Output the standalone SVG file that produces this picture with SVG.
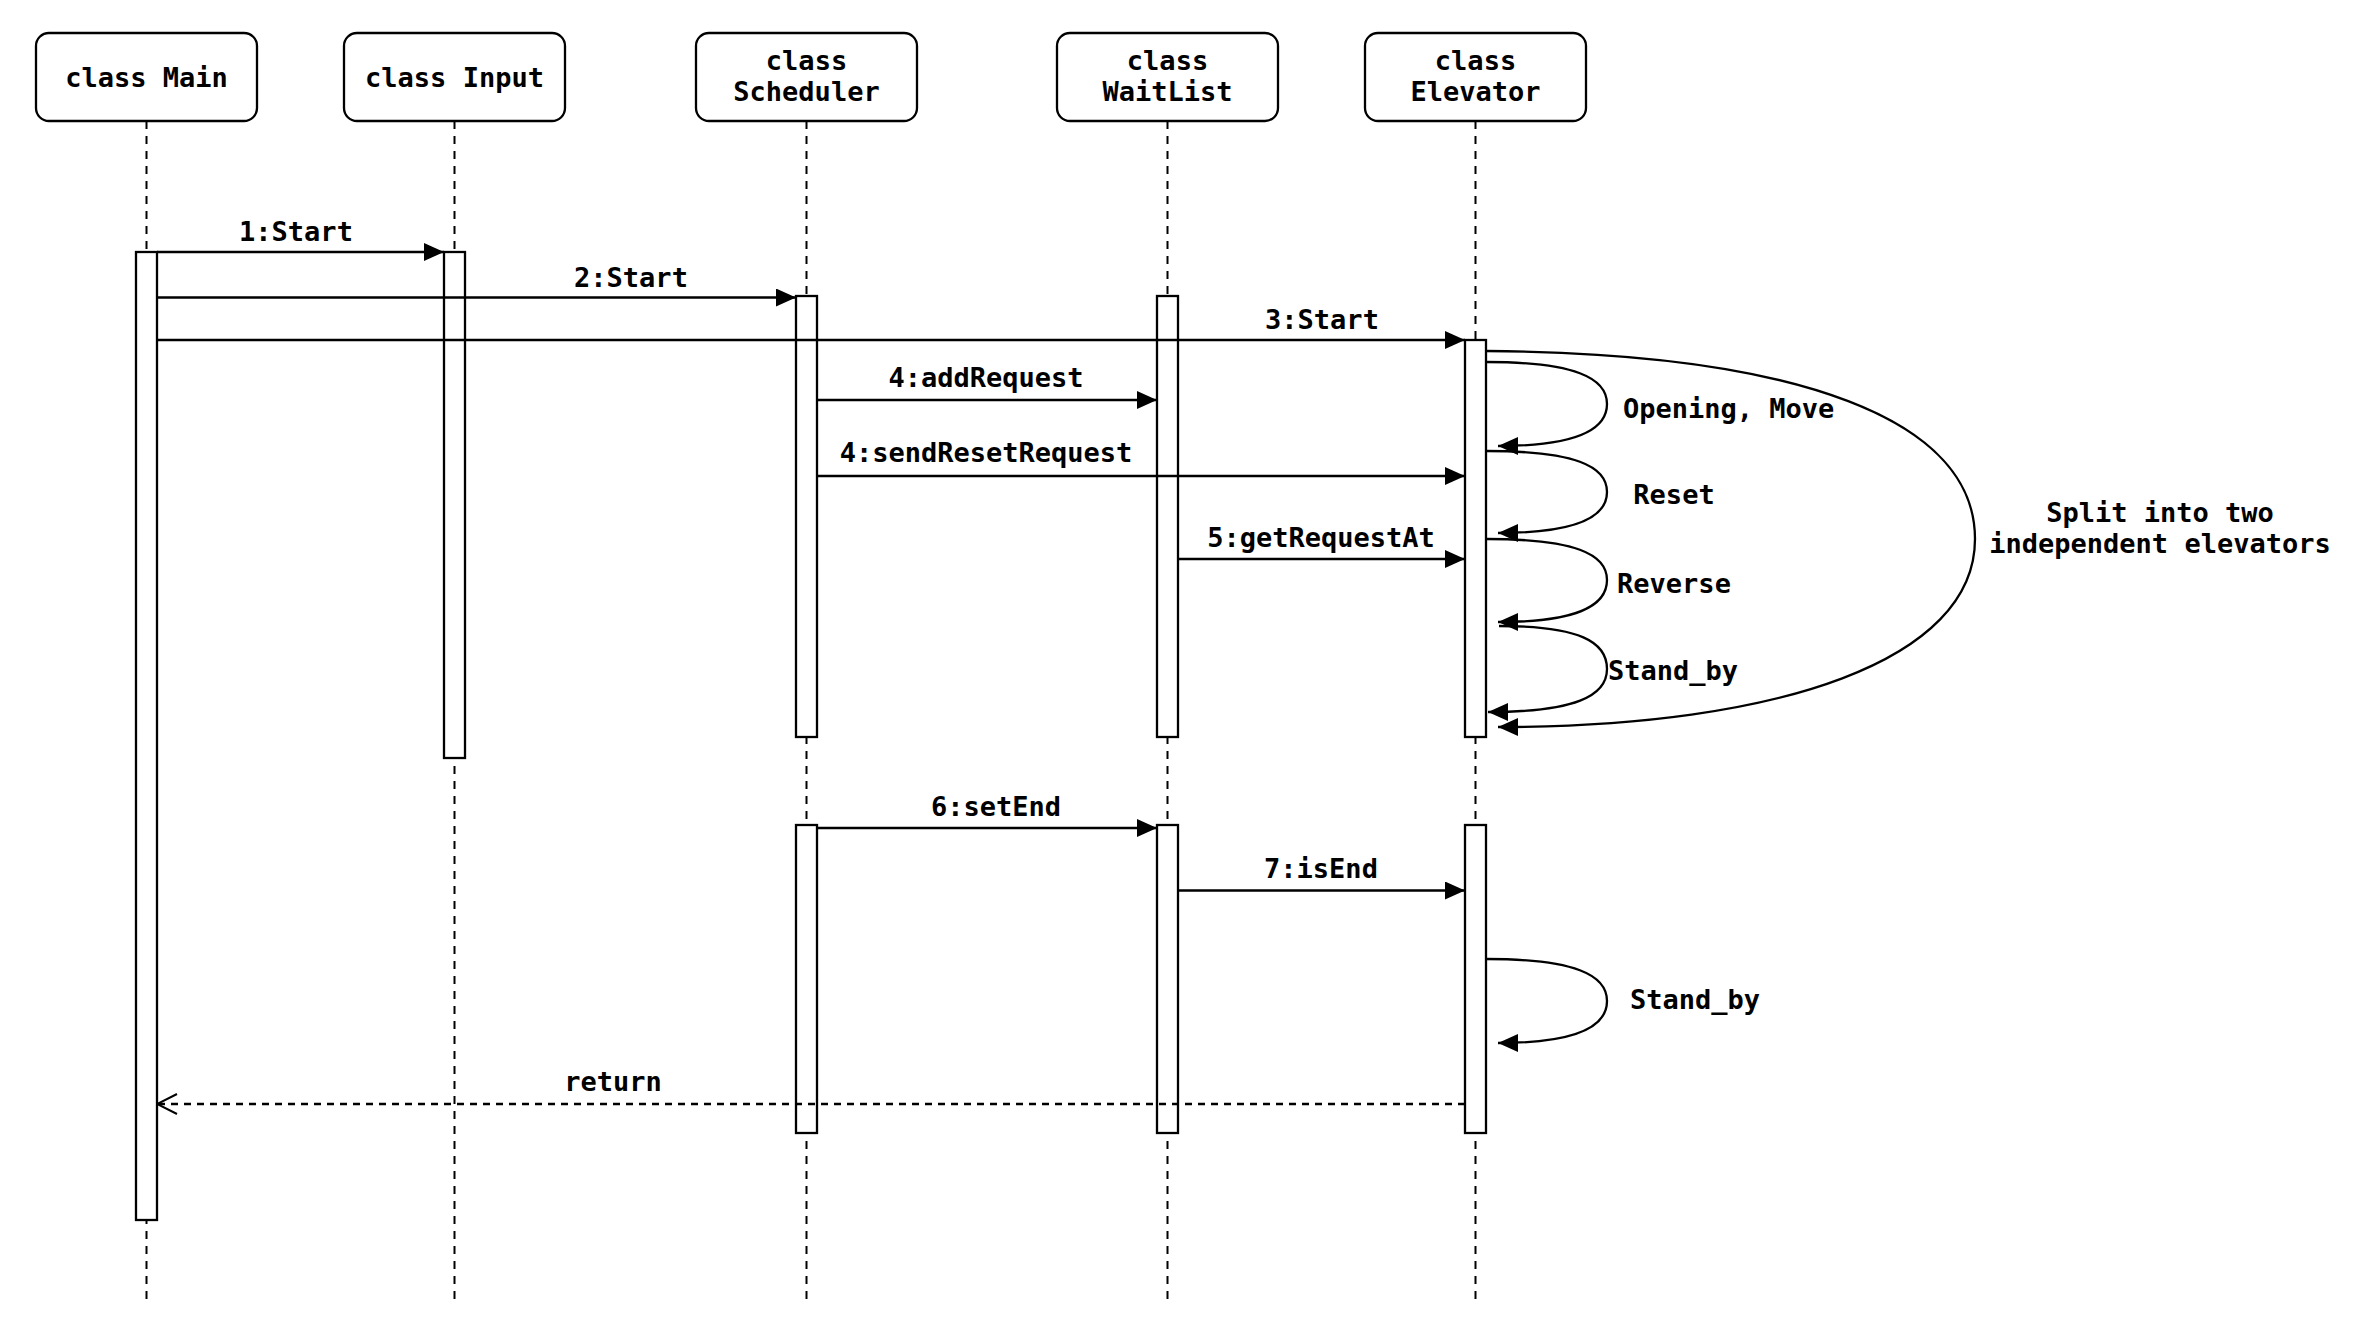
<svg xmlns="http://www.w3.org/2000/svg" width="2368" height="1344" viewBox="0 0 2368 1344">
<defs>
<style>
.box{fill:#fff;stroke:#000;stroke-width:2.3}
.bar{fill:#fff;stroke:#000;stroke-width:2.3}
.life{stroke:#000;stroke-width:2;stroke-dasharray:8 7;fill:none}
.msg{stroke:#000;stroke-width:2.3;fill:none}
.ret{stroke:#000;stroke-width:2.3;fill:none;stroke-dasharray:7 6}
text{font-family:"DejaVu Sans Mono","Liberation Mono",monospace;font-weight:bold;font-size:27px;fill:#000}
.c{text-anchor:middle}
</style>
<marker id="block" markerUnits="userSpaceOnUse" viewBox="0 0 20 18" markerWidth="20" markerHeight="18" refX="20" refY="9" orient="auto">
<path d="M0,0 L20,9 L0,18 z" fill="#000"/>
</marker>
<marker id="open" markerUnits="userSpaceOnUse" viewBox="0 0 22 24" markerWidth="22" markerHeight="24" refX="21" refY="12" orient="auto">
<path d="M1,2 L21,12 L1,22" fill="none" stroke="#000" stroke-width="2"/>
</marker>
</defs>
<rect width="2368" height="1344" fill="#fff"/>

<g id="lifelines">
<line class="life" x1="146.5" y1="121" x2="146.5" y2="1302"/>
<line class="life" x1="454.5" y1="121" x2="454.5" y2="1302"/>
<line class="life" x1="806.5" y1="121" x2="806.5" y2="1302"/>
<line class="life" x1="1167.5" y1="121" x2="1167.5" y2="1302"/>
<line class="life" x1="1475.5" y1="121" x2="1475.5" y2="1302"/>
</g>

<g id="node-main">
<rect class="box" x="36" y="33" width="221" height="88" rx="13"/>
<text class="c" x="146.5" y="87">class Main</text>
<rect class="bar" x="136" y="252" width="21" height="968"/>
</g>
<g id="node-input">
<rect class="box" x="344" y="33" width="221" height="88" rx="13"/>
<text class="c" x="454.5" y="87">class Input</text>
<rect class="bar" x="444" y="252" width="21" height="506"/>
</g>
<g id="node-scheduler">
<rect class="box" x="696" y="33" width="221" height="88" rx="13"/>
<text class="c" x="806.5" y="70">class</text>
<text class="c" x="806.5" y="101">Scheduler</text>
<rect class="bar" x="796" y="296" width="21" height="441"/>
<rect class="bar" x="796" y="825" width="21" height="308"/>
</g>
<g id="node-waitlist">
<rect class="box" x="1057" y="33" width="221" height="88" rx="13"/>
<text class="c" x="1167.5" y="70">class</text>
<text class="c" x="1167.5" y="101">WaitList</text>
<rect class="bar" x="1157" y="296" width="21" height="441"/>
<rect class="bar" x="1157" y="825" width="21" height="308"/>
</g>
<g id="node-elevator">
<rect class="box" x="1365" y="33" width="221" height="88" rx="13"/>
<text class="c" x="1475.5" y="70">class</text>
<text class="c" x="1475.5" y="101">Elevator</text>
<rect class="bar" x="1465" y="340" width="21" height="397"/>
<rect class="bar" x="1465" y="825" width="21" height="308"/>
</g>

<g id="connectors">
<path class="msg" d="M157,252 H444" marker-end="url(#block)"/>
<path class="msg" d="M157,297.5 H796" marker-end="url(#block)"/>
<path class="msg" d="M157,340 H1465" marker-end="url(#block)"/>
<path class="msg" d="M817,400 H1157" marker-end="url(#block)"/>
<path class="msg" d="M817,476 H1465" marker-end="url(#block)"/>
<path class="msg" d="M1178,559 H1465" marker-end="url(#block)"/>
<path class="msg" d="M817,828 H1157" marker-end="url(#block)"/>
<path class="msg" d="M1178,890.5 H1465" marker-end="url(#block)"/>
<path class="ret" d="M1465,1104 H157" marker-end="url(#open)"/>
<path class="msg" d="M1486,362 C1575,362 1607,378 1607,404 C1607,430 1575,446 1498,446" marker-end="url(#block)"/>
<path class="msg" d="M1486,451 C1575,451 1607,466 1607,492 C1607,518 1575,533 1498,533" marker-end="url(#block)"/>
<path class="msg" d="M1486,539 C1575,539 1607,554 1607,580 C1607,607 1575,622 1498,622" marker-end="url(#block)"/>
<path class="msg" d="M1499,626 C1580,626 1607,642 1607,669 C1607,696 1575,712 1488,712" marker-end="url(#block)"/>
<path class="msg" d="M1486,351 C1800,353 1975,420 1975,539 C1975,660 1780,727 1498,727" marker-end="url(#block)"/>
<path class="msg" d="M1486,959 C1575,959 1607,975 1607,1001 C1607,1027 1575,1043 1498,1043" marker-end="url(#block)"/>
</g>

<g id="labels">
<text class="c" x="296" y="241">1:Start</text>
<text class="c" x="631" y="287">2:Start</text>
<text class="c" x="1322" y="329">3:Start</text>
<text class="c" x="986" y="387">4:addRequest</text>
<text class="c" x="986" y="462">4:sendResetRequest</text>
<text class="c" x="1321" y="547">5:getRequestAt</text>
<text class="c" x="996" y="816">6:setEnd</text>
<text class="c" x="1321" y="878">7:isEnd</text>
<text class="c" x="613" y="1091">return</text>
<text x="1623" y="418">Opening, Move</text>
<text class="c" x="1674" y="504">Reset</text>
<text class="c" x="1674" y="593">Reverse</text>
<text class="c" x="1673" y="680">Stand_by</text>
<text class="c" x="1695" y="1009">Stand_by</text>
<text class="c" x="2160" y="522">Split into two</text>
<text class="c" x="2160" y="553">independent elevators</text>
</g>
</svg>
